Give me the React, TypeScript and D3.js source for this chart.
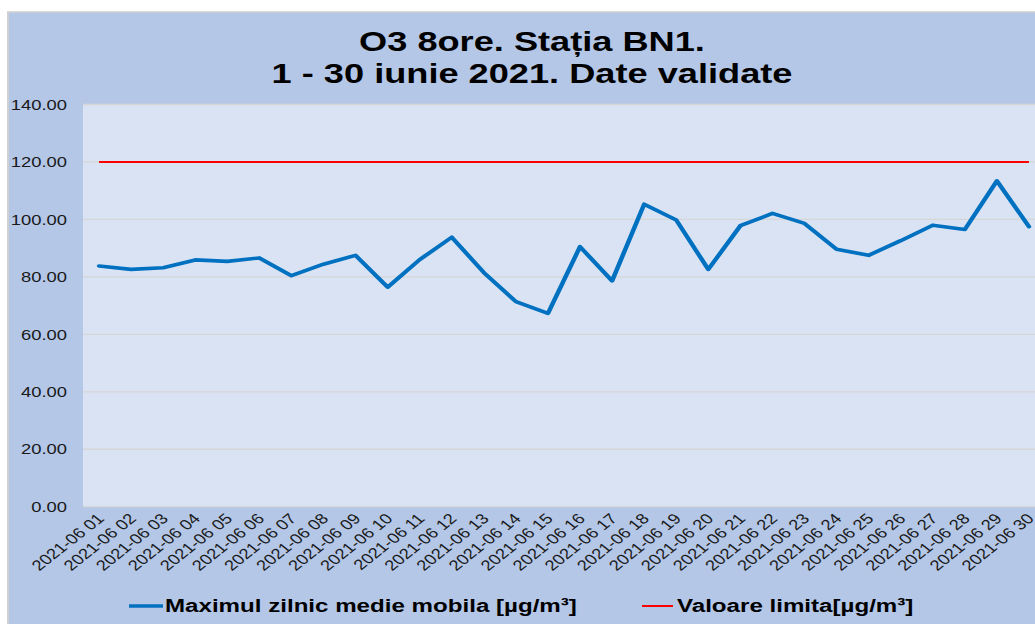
import React from "react";
import * as d3 from "d3";

const dates = [
  "2021-06 01", "2021-06 02", "2021-06 03", "2021-06 04", "2021-06 05",
  "2021-06 06", "2021-06 07", "2021-06 08", "2021-06 09", "2021-06 10",
  "2021-06 11", "2021-06 12", "2021-06 13", "2021-06 14", "2021-06 15",
  "2021-06 16", "2021-06 17", "2021-06 18", "2021-06 19", "2021-06 20",
  "2021-06 21", "2021-06 22", "2021-06 23", "2021-06 24", "2021-06 25",
  "2021-06 26", "2021-06 27", "2021-06 28", "2021-06 29", "2021-06 30",
];

const dailyMax = [
  83.8, 82.6, 83.2, 85.9, 85.4, 86.6, 80.4, 84.4, 87.5, 76.4,
  86.0, 93.8, 81.5, 71.4, 67.3, 90.5, 78.6, 105.3, 99.8, 82.6,
  97.8, 102.1, 98.6, 89.6, 87.5, 92.6, 98.0, 96.5, 113.4, 97.5,
];

const limitValue = dates.map(() => 120);

const yTicks = [0, 20, 40, 60, 80, 100, 120, 140];

const titleLines = ["O3 8ore. Stația BN1.", "1 - 30 iunie 2021. Date validate"];
const seriesNames = ["Maximul zilnic medie mobila [µg/m³]", "Valoare limita[µg/m³]"];

const W = 1035;
const H = 624;
const SX = 1.27; // horizontal stretch of the reference
const FONT = "'Liberation Sans', Arial, Helvetica, sans-serif";

export default function App() {
  const left = 83 / SX;
  const right = 1045 / SX;
  const top = 104.5;
  const bottom = 506.7;

  const x = d3.scaleBand<string>().domain(dates).range([left, right]);
  const cx = (d: string) => (x(d) as number) + x.bandwidth() / 2;
  const y = d3.scaleLinear().domain([0, 140]).range([bottom, top]);

  const line = d3
    .line<number>()
    .x((_, i) => cx(dates[i]))
    .y((v) => y(v));

  return (
    <svg
      width={W}
      height={H}
      style={{ position: "absolute", left: 0, top: 0, display: "block", background: "#ffffff" }}
    >
      <g transform={`scale(${SX},1)`}>
        <rect x={8 / SX} y={12} width={1100} height={700} fill="#b4c7e7" stroke="#d0d0d0" strokeWidth={1.5} />
        <rect x={left} y={top} width={right - left} height={bottom - top} fill="#dae3f3" />
        {yTicks.map((t) => (
          <line key={"g" + t} x1={left} x2={right} y1={y(t)} y2={y(t)} stroke="#d6d6d6" strokeWidth={1.3} />
        ))}
        {yTicks.map((t) => (
          <text
            key={"yl" + t}
            x={67 / SX}
            y={y(t)}
            dy="0.36em"
            textAnchor="end"
            fontFamily={FONT}
            fontSize={14.5}
            fill="#1a1a1a"
          >
            {d3.format(".2f")(t)}
          </text>
        ))}
        {dates.map((d) => (
          <text
            key={"xl" + d}
            transform={`translate(${cx(d) + 1.2},${516}) rotate(-45)`}
            textAnchor="end"
            dy="0.35em"
            fontFamily={FONT}
            fontSize={14.5}
            fill="#1a1a1a"
          >
            {d}
          </text>
        ))}
        <path d={line(limitValue) || ""} fill="none" stroke="#ff0000" strokeWidth={2} />
        <path
          d={line(dailyMax) || ""}
          fill="none"
          stroke="#0070c0"
          strokeWidth={3.6}
          strokeLinejoin="round"
          strokeLinecap="round"
        />
        {titleLines.map((t, i) => (
          <text
            key={"t" + i}
            x={532 / SX}
            y={50.7 + i * 32.6}
            textAnchor="middle"
            fontFamily={FONT}
            fontWeight="bold"
            fontSize={28.5}
            fill="#000000"
          >
            {t}
          </text>
        ))}
        <line x1={129 / SX} x2={163 / SX} y1={606} y2={606} stroke="#0070c0" strokeWidth={3.6} />
        <text x={165 / SX} y={612.5} fontFamily={FONT} fontWeight="bold" fontSize={19} fill="#000">
          {seriesNames[0]}
        </text>
        <line x1={642 / SX} x2={673 / SX} y1={606} y2={606} stroke="#ff0000" strokeWidth={2} />
        <text x={677 / SX} y={612.5} fontFamily={FONT} fontWeight="bold" fontSize={19} fill="#000">
          {seriesNames[1]}
        </text>
      </g>
    </svg>
  );
}
